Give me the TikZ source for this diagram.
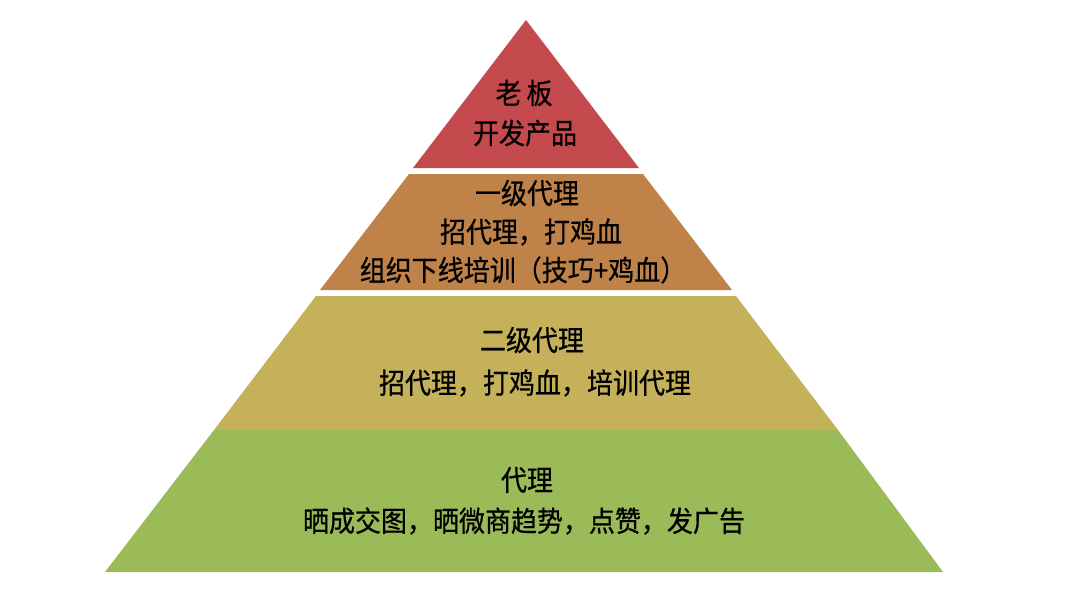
\documentclass[tikz,border=0pt]{standalone}
\usepackage{fontspec}
\setmainfont[FakeBold=0.6]{Noto Sans CJK SC}
\usepackage{graphicx}
\definecolor{lvred}{HTML}{C44A4E}
\definecolor{lvorange}{HTML}{BF834A}
\definecolor{lvtan}{HTML}{C5B15A}
\definecolor{lvgreen}{HTML}{9BBB59}
\newcommand{\tallt}[1]{\scalebox{1}[1.1]{#1}}
\begin{document}
\begin{tikzpicture}[x=1pt,y=1pt,
  lbl/.style={text=black,font=\fontsize{26}{30}\selectfont,inner sep=0pt,anchor=center}]
\fill[white] (0,0) rectangle (1080,-606);
\useasboundingbox (0,0) rectangle (1080,-606);
% layers
\fill[lvred] (526,-20) -- (639,-168) -- (413,-168) -- cycle;
\fill[lvorange] (409,-174) -- (643,-174) -- (732,-290) -- (320,-290) -- cycle;
\fill[lvtan] (316,-296) -- (736,-296) -- (838,-430) -- (214,-430) -- cycle;
\fill[lvgreen] (214,-430) -- (838,-430) -- (943,-572) -- (105,-572) -- cycle;
% texts
\node[lbl] (t1a) at (524,-93) {\tallt{老\hspace{5pt}板}};
\node[lbl] (t1b) at (525,-133) {\tallt{开发产品}};
\node[lbl] (t2a) at (527,-193) {\tallt{一级代理}};
\node[lbl] (t2b) at (531,-232) {\tallt{招代理，打鸡血}};
\node[lbl] (t2c) at (523,-270) {\tallt{组织下线培训（技巧+鸡血）}};
\node[lbl] (t3a) at (532,-340) {\tallt{二级代理}};
\node[lbl] (t3b) at (535,-383) {\tallt{招代理，打鸡血，培训代理}};
\node[lbl] (t4a) at (527,-480) {\tallt{代理}};
\node[lbl] (t4b) at (524,-521) {\tallt{晒成交图，晒微商趋势，点赞，发广告}};
\end{tikzpicture}
\end{document}
